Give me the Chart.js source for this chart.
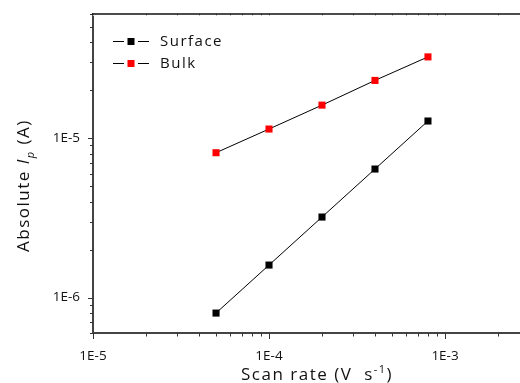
<!DOCTYPE html>
<html>
<head>
<meta charset="utf-8">
<script src="https://cdn.jsdelivr.net/npm/chart.js@4.4.0/dist/chart.umd.min.js"></script>
<style>
  html, body { margin: 0; padding: 0; background: #fff; overflow: hidden; }
  #wrap { width: 520px; height: 383px; overflow: hidden; }
</style>
</head>
<body>
<div id="wrap"><canvas id="chart" width="540" height="383"></canvas></div>
<script>
const scanRate = [5e-5, 1e-4, 2e-4, 4e-4, 8e-4];
const surface = [8.0e-7, 1.6e-6, 3.2e-6, 6.4e-6, 1.28e-5];
const bulk = [8.1e-6, 1.14e-5, 1.61e-5, 2.3e-5, 3.23e-5];
const seriesNames = ['Surface', 'Bulk'];
const xRange = [1e-5, 3e-3];
const yRange = [6e-7, 6e-5];

const FONT = '"Open Sans", "Noto Sans", sans-serif';

function logTicks(min, max) {
    const out = [];
    for (let e = Math.floor(Math.log10(min)); e <= Math.ceil(Math.log10(max)); e++) {
        for (let m = 1; m <= 9; m++) {
            const v = m * Math.pow(10, e);
            if (v >= min * 0.999 && v <= max * 1.001) out.push({ value: v });
        }
    }
    return out;
}
const isDecade = v => Math.abs(Math.log10(v) - Math.round(Math.log10(v))) < 1e-6;
const decadeLabel = v => isDecade(v) ? '1E' + Math.round(Math.log10(v)) : '';

const toPoints = ys => scanRate.map((x, i) => ({ x: x, y: ys[i] }));

// ticks, top frame, legend and axis titles
const decor = {
    id: 'decor',
    afterDraw(chart) {
        const { ctx, chartArea: a, scales } = chart;
        ctx.save();
        ctx.strokeStyle = '#333';
        ctx.lineWidth = 1;
        scales.x.ticks.forEach(t => {
            const px = Math.round(scales.x.getPixelForValue(t.value)) + 0.5;
            const len = isDecade(t.value) ? 6 : 3.5;
            ctx.beginPath(); ctx.moveTo(px, a.bottom); ctx.lineTo(px, a.bottom + len); ctx.stroke();
        });
        scales.y.ticks.forEach(t => {
            const py = Math.round(scales.y.getPixelForValue(t.value)) + 0.5;
            const len = isDecade(t.value) ? 5 : 3;
            ctx.beginPath(); ctx.moveTo(a.left, py); ctx.lineTo(a.left - len, py); ctx.stroke();
        });
        // faint ticks on the top axis
        ctx.strokeStyle = '#bbb';
        scales.x.ticks.forEach(t => {
            const px = Math.round(scales.x.getPixelForValue(t.value)) + 0.5;
            ctx.beginPath(); ctx.moveTo(px, a.top - 1); ctx.lineTo(px, a.top + 2); ctx.stroke();
        });
        // top frame
        ctx.strokeStyle = '#111';
        ctx.lineWidth = 1.6;
        ctx.beginPath(); ctx.moveTo(a.left - 1, a.top); ctx.lineTo(a.right, a.top); ctx.stroke();

        // legend
        ctx.lineWidth = 1;
        ctx.font = '15px ' + FONT;
        ctx.letterSpacing = '1.5px';
        ctx.textBaseline = 'middle';
        chart.data.datasets.forEach((ds, i) => {
            const y = 41 + i * 22;
            ctx.strokeStyle = '#000';
            ctx.beginPath(); ctx.moveTo(113, y + 0.5); ctx.lineTo(124, y + 0.5);
            ctx.moveTo(138, y + 0.5); ctx.lineTo(149, y + 0.5); ctx.stroke();
            ctx.fillStyle = ds.pointBackgroundColor;
            ctx.fillRect(127.5, y - 3, 7, 7);
            ctx.fillStyle = '#111';
            ctx.fillText(ds.label, 160, y + 1);
        });

        // x title
        ctx.font = '17px ' + FONT;
        ctx.letterSpacing = '1.5px';
        ctx.textBaseline = 'alphabetic';
        let x = 241, y = 380;
        const parts = [['Scan rate (V  s', 17, 0], ['-1', 11, -7], [')', 17, 0]];
        parts.forEach(([s, size, dy]) => {
            ctx.font = size + 'px ' + FONT;
            ctx.fillText(s, x, y + dy);
            x += ctx.measureText(s).width;
        });

        // y title, rotated
        ctx.translate(29, 252);
        ctx.rotate(-Math.PI / 2);
        x = 0;
        const yparts = [['Absolute ', 17, 0, ''], ['I', 17, 0, 'italic '], ['p', 11, 5, 'italic '], [' (A)', 17, 0, '']];
        yparts.forEach(([s, size, dy, st]) => {
            ctx.font = st + size + 'px ' + FONT;
            ctx.fillText(s, x, dy);
            x += ctx.measureText(s).width;
        });
        ctx.restore();
    }
};

new Chart(document.getElementById('chart'), {
    type: 'scatter',
    data: {
        datasets: [
            {
                label: seriesNames[0], data: toPoints(surface), showLine: true,
                borderColor: '#000', borderWidth: 1,
                pointStyle: 'rect', pointRadius: 5, pointBorderWidth: 0,
                pointBackgroundColor: '#000', pointBorderColor: '#000'
            },
            {
                label: seriesNames[1], data: toPoints(bulk), showLine: true,
                borderColor: '#000', borderWidth: 1,
                pointStyle: 'rect', pointRadius: 5, pointBorderWidth: 0,
                pointBackgroundColor: '#ff0000', pointBorderColor: '#ff0000'
            }
        ]
    },
    options: {
        responsive: false,
        animation: false,
        layout: { padding: { top: 14, right: 11, left: 0, bottom: 0 } },
        plugins: { legend: { display: false }, tooltip: { enabled: false } },
        scales: {
            x: {
                type: 'logarithmic', min: xRange[0], max: xRange[1],
                afterBuildTicks: s => { s.ticks = logTicks(xRange[0], xRange[1]); },
                afterFit: s => { s.height = 50; s.paddingLeft = 0; s.paddingRight = 0; },
                grid: { display: false, drawTicks: false },
                border: { display: true, color: '#444', width: 2 },
                ticks: {
                    autoSkip: false, maxRotation: 0, padding: 15,
                    color: '#111', font: { family: FONT, size: 13.5 },
                    callback: v => decadeLabel(v)
                }
            },
            y: {
                type: 'logarithmic', min: yRange[0], max: yRange[1],
                afterBuildTicks: s => { s.ticks = logTicks(yRange[0], yRange[1]); },
                afterFit: s => { s.width = 93; s.paddingTop = 0; s.paddingBottom = 0; },
                grid: { display: false, drawTicks: false },
                border: { display: true, color: '#444', width: 2 },
                ticks: {
                    autoSkip: false, padding: 13,
                    color: '#111', font: { family: FONT, size: 13.5 },
                    callback: v => decadeLabel(v)
                }
            }
        }
    },
    plugins: [decor]
});
</script>
</body>
</html>
